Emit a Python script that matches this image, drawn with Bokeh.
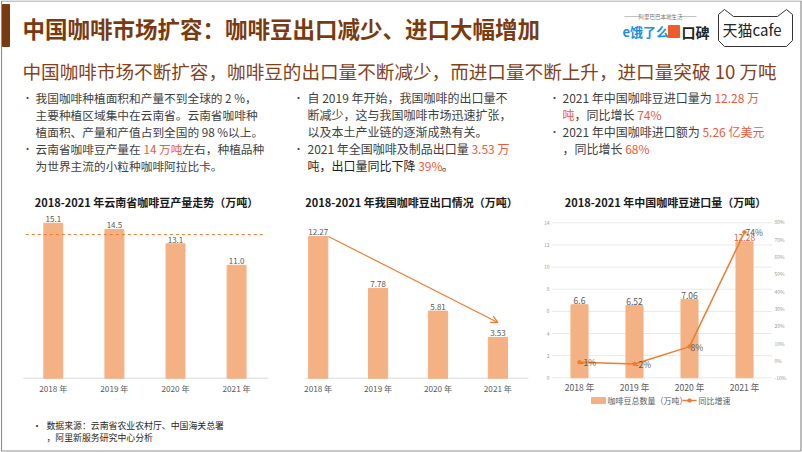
from bokeh.plotting import figure
from bokeh.models import Range1d, Arrow, OpenHead
from bokeh.core.properties import value
from bokeh.embed import file_html
from bokeh.resources import INLINE

# ---------------- data ----------------
years = ["2018 年", "2019 年", "2020 年", "2021 年"]
yunnan_output = [15.1, 14.5, 13.1, 11.0]
yunnan_output_labels = ["15.1", "14.5", "13.1", "11.0"]
yunnan_reference = 14.0
export_volume = [12.27, 7.78, 5.81, 3.53]
export_labels = ["12.27", "7.78", "5.81", "3.53"]
import_volume = [6.6, 6.52, 7.06, 12.28]
import_labels = ["6.6", "6.52", "7.06", "12.28"]
import_growth = [-1, -2, 8, 74]
import_growth_labels = ["-1%", "-2%", "8%", "74%"]
import_left_ticks = [0, 2, 4, 6, 8, 10, 12, 14]
import_right_ticks = [-10, 0, 10, 20, 30, 40, 50, 60, 70, 80]
import_right_tick_labels = ["-10%", "0%", "10%", "20%", "30%", "40%", "50%", "60%", "70%", "80%"]
import_legend = ["咖啡豆总数量（万吨）", "同比增速"]
chart_titles = ["2018-2021 年云南省咖啡豆产量走势（万吨）", "2018-2021 年我国咖啡豆出口情况（万吨）",
                "2018-2021 年中国咖啡豆进口量（万吨）"]

# ---------------- style ----------------
FONT = "Noto Sans CJK SC"
BROWN = "#7a3a10"
BROWN2 = "#84421a"
DARK = "#404040"
RED = "#EE5A3C"
BAR = "#F4B183"
ORANGE = "#ED7D31"
GRAY = "#595959"
W, H = 802, 452


def tw(s, size):
    w = 0.0
    for ch in s:
        if ord(ch) >= 0x2E80:
            w += 1.0
        elif ch == " ":
            w += 0.224
        elif ch.isdigit():
            w += 0.553
        elif ch == ".":
            w += 0.27
        elif ch == "%":
            w += 0.86
        elif ch == "-":
            w += 0.34
        else:
            w += 0.55
    return w * size


def rich(p, x, y, segs, size, weight="normal"):
    cx = x
    for txt, col in segs:
        p.text(x=[cx], y=[y], text=[txt], text_color=col, text_font=value(FONT),
               text_font_size=f"{size}px", text_baseline="middle", text_align="left",
               text_font_style=weight)
        cx += tw(txt, size)


def xr(first_px, step_px):
    start = -first_px / step_px
    return Range1d(start, start + W / step_px)


def yr(base_px, ppu, base_val=0.0):
    start = base_val - (H - base_px) / ppu
    return Range1d(start, start + H / ppu)


p = figure(width=W, height=H, x_range=Range1d(0, W), y_range=Range1d(H, 0),
           output_backend="svg", toolbar_location=None, min_border=0,
           x_axis_location=None, y_axis_location=None)
p.grid.visible = False
p.outline_line_color = None
p.background_fill_color = "white"
p.border_fill_color = "white"

# slide frame + brown tab
p.quad(left=[1], right=[800.5], top=[0.5], bottom=[450.5], fill_color=None,
       line_color="#8f8f8f", line_width=1.2)
p.quad(left=[2], right=[9], top=[4], bottom=[46], color=BROWN)

# ---------------- header ----------------
rich(p, 22, 27, [("中国咖啡市场扩容：咖啡豆出口减少、进口大幅增加", BROWN)], 22.5, "bold")

p.segment(x0=[624, 680], y0=[16, 16], x1=[640, 696], y1=[16, 16], line_color="#999999", line_width=0.6)
p.text(x=[660], y=[16], text=["阿里巴巴本地生活"], text_font=value(FONT), text_font_size="5.5px",
       text_color="#777777", text_align="center", text_baseline="middle")
rich(p, 622, 31, [("e饿了么", "#1E8FE1")], 13, "bold")
p.quad(left=[668], right=[679], top=[25], bottom=[37], color="#F25A29")
rich(p, 681, 31, [("口碑", "#222222")], 14, "bold")
p.line(x=[718, 724, 733, 777, 786, 792, 792, 786, 724, 718, 718],
       y=[14, 9, 16, 16, 9, 14, 40, 46, 46, 40, 14], line_color="#333333", line_width=1)
rich(p, 722, 29, [("天猫cafe", "#222222")], 15)

rich(p, 22, 70, [("中国咖啡市场不断扩容，咖啡豆的出口量不断减少，而进口量不断上升，进口量突破 10 万吨", BROWN2)], 18.6)

bullet_lines = [
    (35, 97, 11.7, [("我国咖啡种植面积和产量不到全球的 2 %，", DARK)]),
    (35, 114, 11.7, [("主要种植区域集中在云南省。云南省咖啡种", DARK)]),
    (35, 131, 11.7, [("植面积、产量和产值占到全国的 98 %以上。", DARK)]),
    (35, 148, 11.7, [("云南省咖啡豆产量在 ", DARK), ("14 万吨", RED), ("左右，种植品种", DARK)]),
    (35, 165, 11.7, [("为世界主流的小粒种咖啡阿拉比卡。", DARK)]),
    (307, 97, 12, [("自 2019 年开始，我国咖啡的出口量不", DARK)]),
    (307, 114, 12, [("断减少，这与我国咖啡市场迅速扩张，", DARK)]),
    (307, 131, 12, [("以及本土产业链的逐渐成熟有关。", DARK)]),
    (307, 148, 12, [("2021 年全国咖啡及制品出口量 ", DARK), ("3.53 万", RED)]),
    (307, 165, 12, [("吨，出口量同比下降 ", "#1f1f1f"), ("39%", RED), (" 。", DARK)]),
    (562, 97, 12, [("2021 年中国咖啡豆进口量为 ", DARK), ("12.28 万", RED)]),
    (562, 114, 12, [("吨", RED), ("，同比增长 ", DARK), ("74%", RED)]),
    (562, 131, 12, [("2021 年中国咖啡进口额为 ", DARK), ("5.26 亿美元", RED)]),
    (562, 148, 12, [("，同比增长 ", DARK), ("68%", RED)]),
]
for x, y, fs, segs in bullet_lines:
    rich(p, x, y, segs, fs)
p.text(x=[22, 22, 293, 293, 549, 549], y=[97, 148, 97, 148, 97, 131], text=["•"] * 6,
       text_font=value(FONT), text_font_size="10px", text_color=DARK,
       text_align="left", text_baseline="middle")

p.text(x=[146, 411, 665], y=[201, 201, 201], text=chart_titles, text_font=value(FONT),
       text_font_size="11px", text_font_style="bold", text_color="#1a1a1a",
       text_align="center", text_baseline="middle")

# ---------------- chart ranges ----------------
p.extra_x_ranges = {"c1x": xr(52.8, 61.1), "c2x": xr(317.7, 59.9), "c3x": xr(579, 55)}
p.extra_y_ranges = {"c1y": yr(377.7, 10.26), "c2y": yr(377.7, 11.55),
                    "c3y": yr(377.3, 11.07), "c3p": yr(377.3, 1.733, -10)}
idx = list(range(len(years)))

# ---------------- chart 1 ----------------
p.segment(x0=[-0.49], x1=[3.52], y0=[0], y1=[0], x_range_name="c1x", y_range_name="c1y",
          line_color="#d9d9d9", line_width=1)
p.vbar(x=idx, top=yunnan_output, width=0.31, color=BAR, x_range_name="c1x", y_range_name="c1y")
p.segment(x0=[-0.45], x1=[3.44], y0=[yunnan_reference], y1=[yunnan_reference],
          x_range_name="c1x", y_range_name="c1y", line_color=ORANGE, line_dash="3 3", line_width=1)
p.text(x=idx, y=yunnan_output, text=yunnan_output_labels, x_range_name="c1x", y_range_name="c1y",
       text_font=value(FONT), text_font_size="8px", text_color=GRAY, text_align="center",
       text_baseline="bottom", y_offset=-1)
p.text(x=idx, y=[387] * 4, text=years, x_range_name="c1x", text_font=value(FONT),
       text_font_size="8.2px", text_color=GRAY, text_align="center", text_baseline="middle")

# ---------------- chart 2 ----------------
p.segment(x0=[-0.21], x1=[3.51], y0=[0], y1=[0], x_range_name="c2x", y_range_name="c2y",
          line_color="#d9d9d9", line_width=1)
p.vbar(x=idx, top=export_volume, width=0.32, color=BAR, x_range_name="c2x", y_range_name="c2y")
p.text(x=idx, y=export_volume, text=export_labels, x_range_name="c2x", y_range_name="c2y",
       text_font=value(FONT), text_font_size="8px", text_color=GRAY, text_align="center",
       text_baseline="bottom", y_offset=-1)
p.add_layout(Arrow(end=OpenHead(size=7, line_color=ORANGE, line_width=1.2),
                   x_start=0.17, y_start=export_volume[0],
                   x_end=3.0, y_end=export_volume[3] + 1.3,
                   x_range_name="c2x", y_range_name="c2y",
                   line_color=ORANGE, line_width=1.2))
p.text(x=idx, y=[387] * 4, text=years, x_range_name="c2x", text_font=value(FONT),
       text_font_size="8.2px", text_color=GRAY, text_align="center", text_baseline="middle")

# ---------------- chart 3 ----------------
p.segment(x0=[-0.5] * len(import_left_ticks), x1=[3.5] * len(import_left_ticks),
          y0=import_left_ticks, y1=import_left_ticks, x_range_name="c3x", y_range_name="c3y",
          line_color="#e9e9e9", line_width=1)
p.vbar(x=idx, top=import_volume, width=0.31, color=BAR, x_range_name="c3x", y_range_name="c3y")
p.text(x=idx, y=import_volume, text=import_labels, x_range_name="c3x", y_range_name="c3y",
       text_font=value(FONT), text_font_size="8.5px",
       text_color=[RED if i == len(years) - 1 else GRAY for i in idx],
       text_align="center", text_baseline="bottom", y_offset=-1)
p.line(x=idx, y=import_growth, x_range_name="c3x", y_range_name="c3p",
       line_color=ORANGE, line_width=1.5)
p.scatter(x=idx, y=import_growth, x_range_name="c3x", y_range_name="c3p", size=3.5, color=ORANGE)
p.text(x=idx, y=import_growth, text=import_growth_labels, x_range_name="c3x", y_range_name="c3p",
       text_font=value(FONT), text_font_size="8.5px", text_color=GRAY,
       text_align="left", text_baseline="middle", x_offset=1)
# axes tick labels
p.text(x=[549] * len(import_left_ticks), y=import_left_ticks, y_range_name="c3y",
       text=[str(t) for t in import_left_ticks], text_font=value(FONT), text_font_size="5px",
       text_color="#9a9a9a", text_align="right", text_baseline="middle")
p.text(x=[774] * len(import_right_ticks), y=import_right_ticks, y_range_name="c3p",
       text=import_right_tick_labels, text_font=value(FONT), text_font_size="5px",
       text_color="#9a9a9a", text_align="left", text_baseline="middle")
p.text(x=idx, y=[386] * 4, text=years, x_range_name="c3x", text_font=value(FONT),
       text_font_size="8.6px", text_color=GRAY, text_align="center", text_baseline="middle")
# legend
p.quad(left=[591], right=[605], top=[397], bottom=[403], color=BAR)
p.segment(x0=[682], x1=[696], y0=[400], y1=[400], line_color=ORANGE, line_width=1.5)
p.scatter(x=[689], y=[400], size=3.5, color=ORANGE)
p.text(x=[607, 698], y=[400, 400], text=import_legend, text_font=value(FONT),
       text_font_size="8px", text_color=GRAY, text_align="left", text_baseline="middle")

# ---------------- footer ----------------
p.text(x=[32], y=[425], text=["•"], text_font=value(FONT), text_font_size="9px",
       text_color="#262626", text_baseline="middle")
rich(p, 46, 425, [("数据来源：云南省农业农村厅、中国海关总署", "#262626")], 8.9)
rich(p, 46, 437, [("，阿里新服务研究中心分析", "#262626")], 8.9)

open("out.html", "w").write(file_html(p, INLINE))
